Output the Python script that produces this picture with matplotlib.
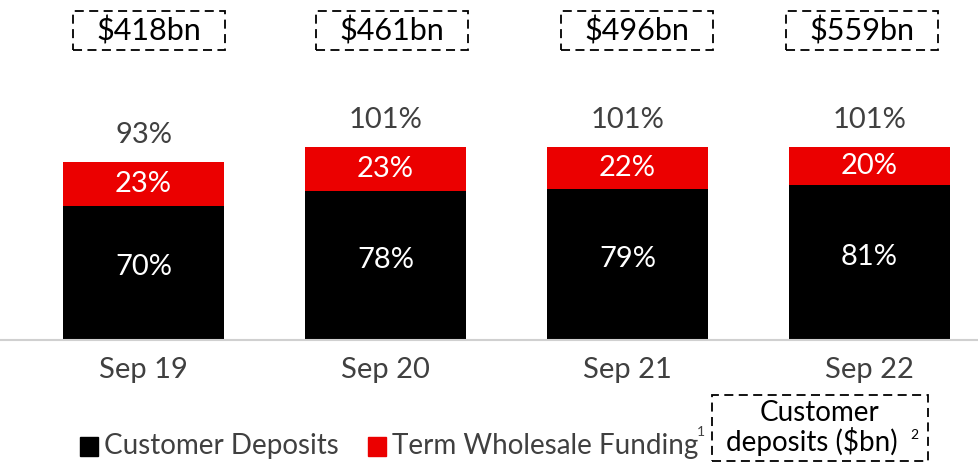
import matplotlib.pyplot as plt
from matplotlib.patches import Rectangle
import matplotlib.transforms as mtransforms

plt.rcParams['font.family'] = ['Lato', 'DejaVu Sans']

periods = ['Sep 19', 'Sep 20', 'Sep 21', 'Sep 22']
customer_deposits = [70, 78, 79, 81]
term_wholesale = [23, 23, 22, 20]
totals = ['93%', '101%', '101%', '101%']
deposits_bn = ['$418bn', '$461bn', '$496bn', '$559bn']

RED = '#EB0000'
GREY = '#404040'
DASH = (0, (5, 3))
box_shift = [0.023, 0.025, 0.037, -0.033]  # boxes are not exactly centred on the bars

W, H = 979, 462
fig = plt.figure(figsize=(W / 100, H / 100), dpi=100)
ax = fig.add_axes([0, (H - 340) / H, 1, 340 / H])

x = range(len(periods))
ax.bar(x, customer_deposits, width=0.665, color='black')
ax.bar(x, term_wholesale, width=0.665, bottom=customer_deposits, color=RED)

for i in x:
    cd = customer_deposits[i]
    tw = term_wholesale[i]
    ax.text(i, cd / 2 + 3, f'{cd}%', color='white', ha='center', va='center', fontsize=21)
    ax.text(i, cd + tw / 2, f'{tw}%', color='white', ha='center', va='center', fontsize=21)
    ax.text(i, cd + tw + 14, totals[i], color=GREY, ha='center', va='center', fontsize=21)

# dashed boxes with customer deposits in $bn
trans = mtransforms.blended_transform_factory(ax.transData, fig.transFigure)
for i, lab in enumerate(deposits_bn):
    cx = i + box_shift[i]
    ax.add_patch(Rectangle((cx - 0.314, 1 - 50 / H), 0.628, 39 / H, transform=trans,
                           fill=False, ec='black', ls=DASH, lw=1.3, clip_on=False))
    ax.text(cx, 1 - 31 / H, lab, transform=trans, ha='center', va='center',
            fontsize=22, color='black')

ax.set_xlim(-0.593, 3.452)
ax.set_ylim(0, 177.6)
for s in ['top', 'right', 'left']:
    ax.spines[s].set_visible(False)
ax.spines['bottom'].set_color('#D0D0D0')
ax.spines['bottom'].set_linewidth(1.5)
ax.set_yticks([])
ax.set_xticks(list(x))
ax.set_xticklabels(periods, fontsize=21, color=GREY)
ax.tick_params(axis='x', length=0, pad=12)

# legend
fig.patches.append(Rectangle((80 / W, 1 - 456 / H), 18 / W, 19 / H, transform=fig.transFigure, color='black'))
fig.text(104 / W, 1 - 446 / H, 'Customer Deposits', fontsize=20, color=GREY, va='center')
fig.patches.append(Rectangle((368 / W, 1 - 456 / H), 18 / W, 19 / H, transform=fig.transFigure, color=RED))
fig.text(392 / W, 1 - 446 / H, 'Term Wholesale Funding', fontsize=20, color=GREY, va='center')
fig.text(697 / W, 1 - 432 / H, '1', fontsize=10, color=GREY, va='center')

fig.patches.append(Rectangle((712 / W, 1 - 461 / H), 216 / W, 66 / H, transform=fig.transFigure,
                             fill=False, ec='black', ls=DASH, lw=1.3))
fig.text(820 / W, 1 - 413 / H, 'Customer', fontsize=20, color='black', ha='center', va='center')
fig.text(812 / W, 1 - 442 / H, 'deposits ($bn)', fontsize=20, color='black', ha='center', va='center')
fig.text(910 / W, 1 - 435 / H, '2', fontsize=10, color='black', va='center')

fig.savefig('out.png', dpi=100)
